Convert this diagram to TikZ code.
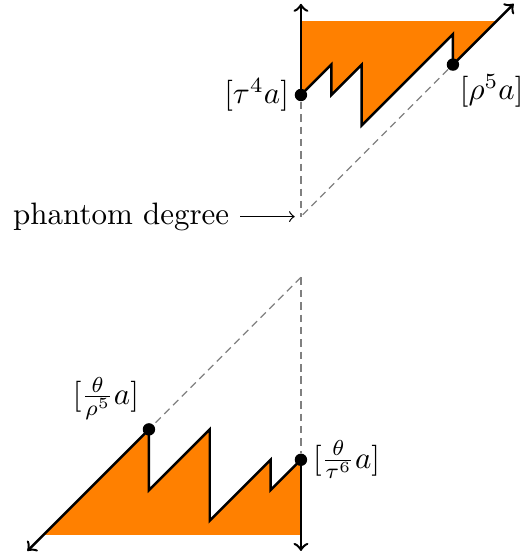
\documentclass[tikz,border=0pt]{standalone}
\usepackage{amsmath,amssymb}
\usepackage{tikz}
\usetikzlibrary{positioning}

\begin{document}
\begin{tikzpicture}[
    x=0.345cm, y=0.345cm,
    dot/.style={circle, fill=black, inner sep=0pt, minimum size=4pt},
    lbl/.style={inner sep=1.5pt},
    edge/.style={thick, black},
    guide/.style={gray, dash pattern=on 2.4pt off 1.6pt},
    region/.style={fill=orange, draw=none},
]
\useasboundingbox (-9.9,-15.1) rectangle (7.3,3.125);

% Shaded regions
\fill[region] (0,0) -- (1,1) -- (1,0) -- (2,1) -- (2,-1) -- (5,2) -- (5,1)
    -- (6.43,2.43) -- (0,2.43) -- cycle;
\fill[region] (0,-12) -- (-1,-13) -- (-1,-12) -- (-3,-14) -- (-3,-11)
    -- (-5,-13) -- (-5,-11) -- (-8.47,-14.47) -- (0,-14.47) -- cycle;

% Classes (top)
\node[dot] (t4) at (0,0) {};
\node[dot] (r5) at (5,1) {};
\node[lbl, left=0pt of t4] (Lt4) {$[\tau^4 a]$};
\node[lbl, below right=0pt and -1pt of r5] (Lr5) {$[\rho^5 a]$};

% Classes (bottom)
\node[dot] (t6) at (0,-12) {};
\node[dot] (r5b) at (-5,-11) {};
\node[lbl, right=0pt of t6] (Lt6) {$[\frac{\theta}{\tau^6} a]$};
\node[lbl, above left=0pt of r5b] (Lr5b) {$[\frac{\theta}{\rho^5} a]$};

% Phantom points and axis ends
\coordinate (ph)  at (0,-4);
\coordinate (ph2) at (0,-6);
\coordinate (topN)  at (0,3);
\coordinate (topNE) at (7,3);
\coordinate (botS)  at (0,-15);
\coordinate (botSW) at (-9,-15);

% Dashed guides
\draw[guide] (t4) -- (ph);
\draw[guide] (r5) -- (ph);
\draw[guide] (ph2) -- (t6);
\draw[guide] (ph2) -- (r5b);

% Phantom degree label
\node[anchor=east] (pd) at (-2,-4) {phantom degree};
\draw[->, shorten >=2pt] (pd) -- (ph);

% Boundaries
\draw[edge] (t4.center) -- ++(1,1) -- ++(0,-1) -- ++(1,1) -- ++(0,-2)
    -- ++(3,3) -- (r5.center);
\draw[edge, ->] (t4.center) -- (topN);
\draw[edge, ->] (r5.center) -- (topNE);
\draw[edge] (t6.center) -- ++(-1,-1) -- ++(0,1) -- ++(-2,-2) -- ++(0,3)
    -- ++(-2,-2) -- (r5b.center);
\draw[edge, ->] (t6.center) -- (botS);
\draw[edge, ->] (r5b.center) -- (botSW);
\end{tikzpicture}
\end{document}
